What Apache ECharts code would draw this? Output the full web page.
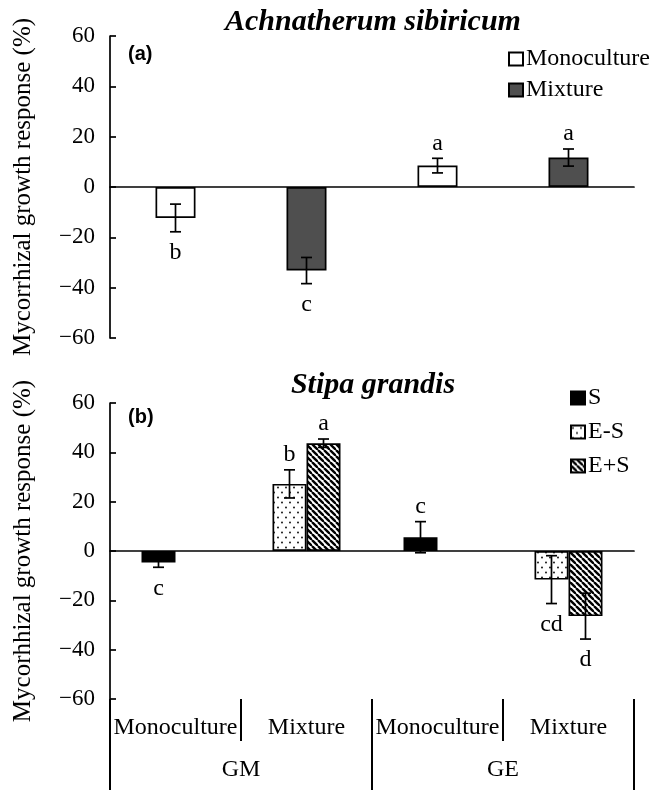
<!DOCTYPE html>
<html>
<head>
<meta charset="utf-8">
<script src="https://cdn.jsdelivr.net/npm/echarts@6/dist/echarts.min.js"></script>
<style>
html,body{margin:0;padding:0;background:#fff;}
#chart{width:672px;height:790px;}
</style>
</head>
<body>
<div id="chart"></div>
<script>
// ---------- data ----------
var levelOne = ['Monoculture', 'Mixture', 'Monoculture', 'Mixture'];
var levelTwo = ['GM', 'GE'];
var yTicks = { min: -60, max: 60, interval: 20 };
var yNames = ['Mycorrhizal growth response (%)', 'Mycorhhizal growth response (%)'];

// panel (a) Achnatherum sibiricum
var aMonoculture = [-12.3, null, 8.5, null];
var aMixture     = [null, -33.2, null, 11.7];
var aMonoErr     = [5.5, null, 2.9, null];
var aMixErr      = [null, 5.2, null, 3.4];
var aMonoLetters = ['b', '', 'a', ''];
var aMixLetters  = ['', 'c', '', 'a'];

// panel (b) Stipa grandis
var bS        = [-4.7, null, 5.6, null];
var bES       = [null, 27.2, null, -11.6];
var bEpS      = [null, 43.7, null, -26.4];
var bSErr     = [1.9, null, 6.3, null];
var bESErr    = [null, 5.7, null, 9.7];
var bEpSErr   = [null, 1.7, null, 9.3];
var bSLetters   = ['c', '', 'c', ''];
var bESLetters  = ['', 'b', '', 'cd'];
var bEpSLetters = ['', 'a', '', 'd'];

// ---------- styles ----------
var SERIF = '"Liberation Serif", "Times New Roman", serif';
var FS = 24;
var barWA = 40, barWB = 34;

function dotPattern() {
  var c = document.createElement('canvas');
  c.width = 8; c.height = 10;
  var g = c.getContext('2d');
  g.fillStyle = '#fff'; g.fillRect(0, 0, 8, 10);
  g.fillStyle = '#000';
  g.beginPath(); g.arc(2, 2.5, 0.9, 0, Math.PI * 2); g.fill();
  g.beginPath(); g.arc(6, 7.5, 0.9, 0, Math.PI * 2); g.fill();
  return c;
}
function hatchPattern() {
  var s = 6;
  var c = document.createElement('canvas');
  c.width = s; c.height = s;
  var g = c.getContext('2d');
  g.fillStyle = '#fff'; g.fillRect(0, 0, s, s);
  g.strokeStyle = '#000'; g.lineWidth = 2.4;
  [-s, 0, s].forEach(function (x0) {
    g.beginPath(); g.moveTo(x0, 0); g.lineTo(x0 + s, s); g.stroke();
  });
  return c;
}
var dotFill = { image: dotPattern(), repeat: 'repeat' };
var hatchFill = { image: hatchPattern(), repeat: 'repeat' };

function errSeries(gridIdx, vals, errs, letters, offset) {
  return {
    type: 'custom',
    xAxisIndex: gridIdx === 0 ? 0 : 1,
    yAxisIndex: gridIdx,
    z: 10,
    silent: true,
    data: vals.map(function (v, i) { return [i, v == null ? NaN : v, errs[i] == null ? 0 : errs[i]]; }),
    renderItem: function (params, api) {
      var v = api.value(1);
      if (isNaN(v)) return null;
      var i = api.value(0), e = api.value(2);
      var p0 = api.coord([i, v + e]);
      var p1 = api.coord([i, v - e]);
      var x = p0[0] + offset;
      var cw = 5.5;
      var ls = { stroke: '#000', lineWidth: 1.7 };
      var letter = letters[params.dataIndex];
      var children = [
        { type: 'line', shape: { x1: x, y1: p0[1], x2: x, y2: p1[1] }, style: ls },
        { type: 'line', shape: { x1: x - cw, y1: p0[1], x2: x + cw, y2: p0[1] }, style: ls },
        { type: 'line', shape: { x1: x - cw, y1: p1[1], x2: x + cw, y2: p1[1] }, style: ls }
      ];
      if (letter) {
        var pos = v >= 0;
        children.push({
          type: 'text',
          style: {
            text: letter, x: x, y: pos ? p0[1] - 3 : p1[1] + 9,
            textAlign: 'center', textVerticalAlign: pos ? 'bottom' : 'top',
            font: FS + 'px ' + SERIF, fill: '#000'
          }
        });
      }
      return { type: 'group', children: children };
    }
  };
}

function yAxisDef(gridIdx) {
  return {
    type: 'value', gridIndex: gridIdx,
    min: yTicks.min, max: yTicks.max, interval: yTicks.interval,
    name: yNames[gridIdx],
    nameLocation: 'middle', nameGap: 74,
    nameTextStyle: { fontFamily: SERIF, fontSize: 25, color: '#000' },
    axisLine: { show: true, lineStyle: { color: '#000', width: 1.7 } },
    axisTick: { show: true, inside: true, length: 6, lineStyle: { color: '#000', width: 1.7 } },
    axisLabel: { margin: 15, fontFamily: SERIF, fontSize: 23, color: '#000',
      formatter: function (v) { return String(v).replace('-', '\u2212'); } },
    splitLine: { show: false }
  };
}

var chart = echarts.init(document.getElementById('chart'), null, { renderer: 'canvas' });
var option = {
  backgroundColor: '#fff',
  animation: false,
  title: [
    { text: 'Achnatherum sibiricum', left: 368, top: 2, textAlign: 'center',
      textStyle: { fontFamily: SERIF, fontSize: 30, fontWeight: 'bold', fontStyle: 'italic', color: '#000' } },
    { text: 'Stipa grandis', left: 368, top: 365, textAlign: 'center',
      textStyle: { fontFamily: SERIF, fontSize: 30, fontWeight: 'bold', fontStyle: 'italic', color: '#000' } },
    { text: '(a)', left: 123, top: 39,
      textStyle: { fontFamily: '"Liberation Sans", Arial, sans-serif', fontSize: 20, fontWeight: 'bold', color: '#000' } },
    { text: '(b)', left: 123, top: 402,
      textStyle: { fontFamily: '"Liberation Sans", Arial, sans-serif', fontSize: 20, fontWeight: 'bold', color: '#000' } }
  ],
  legend: [
    { data: ['Monoculture', 'Mixture'], orient: 'vertical', left: 508, top: 47, padding: 0,
      itemWidth: 14, itemHeight: 13, itemGap: 7, selectedMode: false, icon: 'rect',
      textStyle: { fontFamily: SERIF, fontSize: FS, color: '#000', padding: [0, 0, 0, -2] } },
    { data: ['S', 'E-S', 'E+S'], orient: 'vertical', left: 570, top: 386, padding: 0,
      itemWidth: 14, itemHeight: 13, itemGap: 10, selectedMode: false, icon: 'rect',
      textStyle: { fontFamily: SERIF, fontSize: FS, color: '#000', padding: [0, 0, 0, -2] } }
  ],
  grid: [
    { left: 110, top: 36, width: 524, height: 302 },
    { left: 110, top: 403, width: 524, height: 296 }
  ],
  xAxis: [
    { type: 'category', gridIndex: 0, data: levelOne,
      axisLine: { onZero: true, lineStyle: { color: '#000', width: 1.7 } },
      axisTick: { inside: true, length: 6, lineStyle: { color: '#000', width: 1.7 } },
      axisLabel: { show: false } },
    { type: 'category', gridIndex: 1, data: levelOne,
      axisLine: { onZero: true, lineStyle: { color: '#000', width: 1.7 } },
      axisTick: { inside: true, length: 6, lineStyle: { color: '#000', width: 1.7 } },
      axisLabel: { show: false } },
    { type: 'category', gridIndex: 1, data: levelOne, position: 'bottom',
      axisLine: { show: false, onZero: false },
      axisTick: { show: true, length: 42, lineStyle: { color: '#000', width: 2 } },
      axisLabel: { margin: 17, fontFamily: SERIF, fontSize: FS, color: '#000', interval: 0 } },
    { type: 'category', gridIndex: 1, data: levelTwo, position: 'bottom',
      axisLine: { show: false, onZero: false },
      axisTick: { show: true, length: 92, lineStyle: { color: '#000', width: 2 } },
      axisLabel: { margin: 59, fontFamily: SERIF, fontSize: FS, color: '#000', interval: 0 } }
  ],
  yAxis: [yAxisDef(0), yAxisDef(1)],
  series: [
    { name: 'Monoculture', type: 'bar', xAxisIndex: 0, yAxisIndex: 0, stack: 'a', barWidth: barWA,
      data: aMonoculture, itemStyle: { color: '#fff', borderColor: '#000', borderWidth: 1.7 } },
    { name: 'Mixture', type: 'bar', xAxisIndex: 0, yAxisIndex: 0, stack: 'a', barWidth: barWA,
      data: aMixture, itemStyle: { color: '#4f4f4f', borderColor: '#000', borderWidth: 1.7 } },
    { name: 'S', type: 'bar', xAxisIndex: 1, yAxisIndex: 1, stack: 'b', barWidth: barWB, barGap: '0%',
      data: bS, itemStyle: { color: '#000', borderColor: '#000', borderWidth: 1.7 } },
    { name: 'E-S', type: 'bar', xAxisIndex: 1, yAxisIndex: 1, stack: 'b', barWidth: barWB, barGap: '0%',
      data: bES, itemStyle: { color: dotFill, borderColor: '#000', borderWidth: 1.7 } },
    { name: 'E+S', type: 'bar', xAxisIndex: 1, yAxisIndex: 1, barWidth: barWB, barGap: '0%',
      data: bEpS, itemStyle: { color: hatchFill, borderColor: '#000', borderWidth: 1.7 } },
    errSeries(0, aMonoculture, aMonoErr, aMonoLetters, 0),
    errSeries(0, aMixture, aMixErr, aMixLetters, 0),
    errSeries(1, bS, bSErr, bSLetters, -barWB / 2),
    errSeries(1, bES, bESErr, bESLetters, -barWB / 2),
    errSeries(1, bEpS, bEpSErr, bEpSLetters, barWB / 2)
  ]
};
chart.setOption(option);
</script>
</body>
</html>
